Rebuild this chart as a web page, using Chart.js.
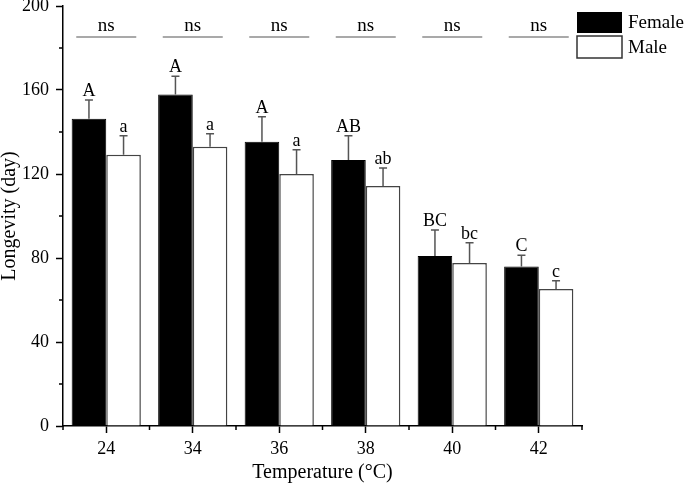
<!DOCTYPE html>
<html>
<head>
<meta charset="utf-8">
<script src="https://cdn.jsdelivr.net/npm/chart.js@4"></script>
<style>
  html, body { margin: 0; padding: 0; background: #fff; }
  #wrap { width: 685px; height: 485px; }
</style>
</head>
<body>
<div id="wrap"><canvas id="chart"></canvas></div>
<script>
// valores
const temps = ['24', '34', '36', '38', '40', '42']
const female = [146.3, 157.8, 135.4, 126.7, 81, 76]
const male = [129.2, 133, 120, 114.3, 77.6, 65.2]
const femaleErr = [8.9, 8.7, 11.9, 11.5, 12.3, 5.3]
const maleErr = [9, 6.2, 11.6, 8.6, 9.7, 4]
const femaleLetters = ['A', 'A', 'A', 'AB', 'BC', 'C']
const maleLetters = ['a', 'a', 'a', 'ab', 'bc', 'c']
const nsLabels = ['ns', 'ns', 'ns', 'ns', 'ns', 'ns']

const serif = '"Liberation Serif", "Times New Roman", serif'

// barras de erro, letras, "ns", ticks menores e legenda
const extras = {
    id: 'extras',
    afterDatasetsDraw(chart) {
        const ctx = chart.ctx
        const x = chart.scales.x
        const y = chart.scales.y
        ctx.save()

        // barras de erro (só a metade de cima)
        const series = [[female, femaleErr, femaleLetters], [male, maleErr, maleLetters]]
        series.forEach((s, di) => {
            const meta = chart.getDatasetMeta(di)
            meta.data.forEach((bar, i) => {
                const top = y.getPixelForValue(s[0][i] + s[1][i])
                const base = y.getPixelForValue(s[0][i])
                ctx.strokeStyle = '#555'
                ctx.lineWidth = 1.5
                ctx.beginPath()
                ctx.moveTo(bar.x, base)
                ctx.lineTo(bar.x, top)
                ctx.moveTo(bar.x - 4, top)
                ctx.lineTo(bar.x + 4, top)
                ctx.stroke()

                ctx.fillStyle = '#000'
                ctx.font = '18px ' + serif
                ctx.textAlign = 'center'
                ctx.textBaseline = 'alphabetic'
                ctx.fillText(s[2][i], bar.x, top - 4)
            })
        })

        // linhas "ns"
        temps.forEach((t, i) => {
            const cx = x.getPixelForValue(i)
            ctx.strokeStyle = '#555'
            ctx.lineWidth = 1.2
            ctx.beginPath()
            ctx.moveTo(cx - 30, 37)
            ctx.lineTo(cx + 30, 37)
            ctx.stroke()
            ctx.fillStyle = '#000'
            ctx.font = '19px ' + serif
            ctx.textAlign = 'center'
            ctx.fillText(nsLabels[i], cx, 31)
        })

        // ticks menores
        ctx.strokeStyle = '#000'
        ctx.lineWidth = 1.5
        ctx.beginPath()
        for (let v = 20; v < 200; v += 40) {
            const py = y.getPixelForValue(v)
            ctx.moveTo(x.left, py)
            ctx.lineTo(x.left - 4, py)
        }
        for (let i = 0; i <= temps.length; i++) {
            const px = x.getPixelForValue(i - 0.5)
            ctx.moveTo(px, y.bottom)
            ctx.lineTo(px, y.bottom + 4)
        }
        ctx.stroke()

        // legenda
        ctx.fillStyle = '#000'
        ctx.fillRect(577, 12, 45, 21)
        ctx.fillStyle = '#fff'
        ctx.fillRect(577, 36, 45, 22)
        ctx.strokeStyle = '#333'
        ctx.lineWidth = 1.5
        ctx.strokeRect(577, 36, 45, 22)
        ctx.fillStyle = '#000'
        ctx.font = '19px ' + serif
        ctx.textAlign = 'left'
        ctx.fillText('Female', 628, 28)
        ctx.fillText('Male', 628, 53)

        ctx.restore()
    }
}

new Chart(document.getElementById('chart'), {
    type: 'bar',
    data: {
        labels: temps,
        datasets: [{
            label: 'Female',
            data: female,
            backgroundColor: '#000',
            borderColor: '#000',
            borderWidth: 1
        }, {
            label: 'Male',
            data: male,
            backgroundColor: '#fff',
            borderColor: '#444',
            borderWidth: 1.5
        }]
    },
    options: {
        responsive: true,
        maintainAspectRatio: false,
        animation: false,
        layout: { padding: { top: 6, right: 103, left: 0, bottom: 0 } },
        categoryPercentage: 0.8,
        barPercentage: 1,
        plugins: {
            legend: { display: false },
            tooltip: { enabled: false }
        },
        scales: {
            x: {
                grid: { display: true, drawOnChartArea: false, offset: false, tickLength: 7, tickColor: '#000', tickWidth: 1.5 },
                border: { display: true, color: '#000', width: 1.5 },
                ticks: { color: '#000', font: { family: serif, size: 18 }, padding: 5 },
                title: { display: true, text: 'Temperature (°C)', color: '#000', font: { family: serif, size: 20 }, padding: { top: 4, bottom: 0 } },
                afterFit(scale) { scale.height = 59; scale.paddingLeft = 0; scale.paddingRight = 0 }
            },
            y: {
                min: 0,
                max: 200,
                grid: { display: true, drawOnChartArea: false, tickLength: 7, tickColor: '#000', tickWidth: 1.5 },
                border: { display: true, color: '#000', width: 1.5 },
                ticks: { stepSize: 40, color: '#000', font: { family: serif, size: 18 }, padding: 7 },
                title: { display: true, text: 'Longevity (day)', color: '#000', font: { family: serif, size: 20, lineHeight: 1 }, padding: { top: 0, bottom: 0 } },
                afterFit(scale) { scale.width = 63; scale.paddingTop = 0; scale.paddingBottom = 0 }
            }
        }
    },
    plugins: [extras]
})
</script>
</body>
</html>
